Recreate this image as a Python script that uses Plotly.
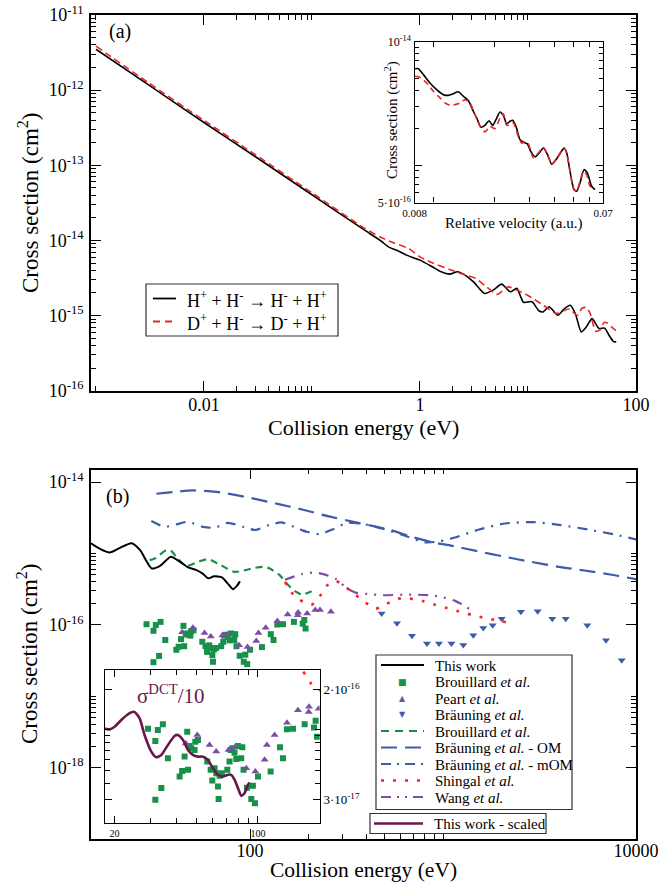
import math
import plotly.graph_objects as go

W, H = 670, 882
FONT = "Liberation Serif, Times New Roman, serif"

# ---------------- Panel (a): main ----------------
ea_h = [0.001, 0.003, 0.01, 0.03, 0.1, 0.3, 0.433, 0.519, 0.624, 0.75, 1.0, 1.3, 1.57, 1.88,
        2.23, 2.61, 3.13, 3.95, 4.8, 5.7, 6.86, 7.87, 9.1, 10.9, 12.6, 13.8, 15.7, 18.9, 21.5,
        24.6, 27.5, 31.1, 34.5, 39.2, 45.4, 51.2, 57.0, 62.0, 65.6]
sa_h = [3.5e-12, 1.2e-12, 3.71e-13, 1.3e-13, 4.05e-14, 1.40e-14, 9.9e-15, 8.07e-15, 7.28e-15,
        6.37e-15, 5.47e-15, 4.46e-15, 3.82e-15, 3.56e-15, 3.82e-15, 3.45e-15, 2.81e-15, 1.97e-15,
        2.2e-15, 2.62e-15, 2.07e-15, 2.30e-15, 1.50e-15, 1.53e-15, 1.16e-15, 1.12e-15, 1.31e-15,
        1.01e-15, 1.22e-15, 1.37e-15, 1.05e-15, 6.07e-16, 7.0e-16, 9.1e-16, 6.73e-16, 6.8e-16,
        5.3e-16, 4.5e-16, 4.47e-16]
ea_d = [0.001, 0.003, 0.01, 0.03, 0.1, 0.3, 0.433, 0.569, 0.787, 1.0, 1.3, 1.88, 2.49, 3.28,
        4.13, 5.2, 6.55, 7.87, 9.45, 11.3, 14.0, 17.3, 19.3, 21.5, 23.9, 25.7, 28.6, 31.8, 34.7,
        37.3, 40.0, 42.4, 46.2, 50.7, 54.5, 59.7, 66.0]
sa_d = [3.85e-12, 1.28e-12, 3.95e-13, 1.38e-13, 4.3e-14, 1.48e-14, 1.10e-14, 9.3e-15, 7.8e-15,
        6.05e-15, 5.03e-15, 4.11e-15, 3.56e-15, 3.12e-15, 2.41e-15, 1.91e-15, 2.41e-15, 2.18e-15,
        1.94e-15, 1.66e-15, 1.36e-15, 1.10e-15, 1.07e-15, 1.16e-15, 1.22e-15, 1.14e-15, 1.0e-15,
        1.26e-15, 1.28e-15, 1.10e-15, 7.7e-16, 6.17e-16, 6.4e-16, 8.1e-16, 7.9e-16, 7.0e-16, 6.2e-16]

# ---------------- Panel (a): inset (relative velocity) ----------------
v_h = [0.00805, 0.00836, 0.00886, 0.00956, 0.01032, 0.01115, 0.01181, 0.01251, 0.01325, 0.01403,
       0.01486, 0.01574, 0.01636, 0.01719, 0.01800, 0.01886, 0.01967, 0.02044, 0.02140, 0.02223,
       0.02310, 0.02401, 0.02476, 0.02572, 0.02694, 0.02799, 0.02931, 0.03045, 0.03201, 0.03365,
       0.03523, 0.03689, 0.03878, 0.04108, 0.04350, 0.04468, 0.04608, 0.04789, 0.05014, 0.05170,
       0.05372, 0.05625, 0.05845, 0.06144, 0.06384]
sv_h = [6.03e-15, 6.03e-15, 5.40e-15, 4.62e-15, 4.08e-15, 3.72e-15, 3.67e-15, 3.79e-15, 3.93e-15,
        3.61e-15, 3.33e-15, 2.73e-15, 2.41e-15, 2.03e-15, 2.10e-15, 2.29e-15, 2.10e-15, 2.34e-15,
        2.69e-15, 2.53e-15, 2.16e-15, 2.27e-15, 2.31e-15, 2.06e-15, 1.61e-15, 1.54e-15, 1.49e-15,
        1.30e-15, 1.17e-15, 1.26e-15, 1.38e-15, 1.23e-15, 1.02e-15, 1.13e-15, 1.30e-15, 1.38e-15,
        1.26e-15, 8.93e-16, 6.35e-16, 6.16e-16, 7.19e-16, 9.21e-16, 8.66e-16, 6.76e-16, 6.35e-16]
v_d = [0.00805, 0.00852, 0.00920, 0.00994, 0.01073, 0.01136, 0.01203, 0.01274, 0.01350, 0.01430,
       0.01515, 0.01605, 0.01700, 0.01800, 0.01907, 0.02020, 0.02140, 0.02223, 0.02310, 0.02401,
       0.02495, 0.02642, 0.02745, 0.02852, 0.02963, 0.03139, 0.03326, 0.03523, 0.03732, 0.03878,
       0.04108, 0.04350, 0.04468, 0.04608, 0.04789, 0.04975, 0.05170, 0.05372, 0.05581, 0.05800,
       0.06027, 0.06384]
sv_d = [5.23e-15, 5.14e-15, 4.62e-15, 3.96e-15, 3.50e-15, 3.19e-15, 3.05e-15, 3.09e-15, 3.19e-15,
        3.39e-15, 3.19e-15, 2.56e-15, 2.06e-15, 1.86e-15, 2.06e-15, 1.98e-15, 2.41e-15, 2.60e-15,
        2.10e-15, 2.13e-15, 2.20e-15, 1.71e-15, 1.51e-15, 1.54e-15, 1.49e-15, 1.15e-15, 1.26e-15,
        1.40e-15, 1.18e-15, 1.01e-15, 1.13e-15, 1.32e-15, 1.38e-15, 1.26e-15, 8.93e-16, 6.55e-16,
        6.16e-16, 7.42e-16, 8.93e-16, 8.40e-16, 6.76e-16, 6.47e-16]

# ---------------- Panel (b): main ----------------
eb_this = [15.0, 16.7, 18.75, 21.2, 24.3, 26.9, 30.9, 34.2, 38.9, 43.4, 47.7, 52.5, 57.1, 60.6,
           65.1, 71.5, 76.9, 81.6, 85.1, 88.7]
sb_this = [1.39e-15, 1.16e-15, 1.03e-15, 1.20e-15, 1.39e-15, 1.12e-15, 6.19e-16, 6.72e-16,
           8.98e-16, 7.64e-16, 6.39e-16, 5.89e-16, 5.18e-16, 4.48e-16, 4.78e-16, 4.62e-16,
           3.75e-16, 3.16e-16, 3.46e-16, 4.06e-16]
eb_brou_th = [30.2, 32.1, 36.8, 39.1, 41.5, 46.7, 53.8, 60.6, 68.2, 83.3, 105.7, 119.0, 126.5,
              142.5, 154.9, 171.0, 185.2, 208.7]
sb_brou_th = [8.07e-16, 8.50e-16, 1.11e-15, 1.08e-15, 8.97e-16, 6.64e-16, 7.63e-16, 8.33e-16,
              7.23e-16, 5.52e-16, 6.29e-16, 6.5e-16, 6.15e-16, 4.97e-16, 3.79e-16, 2.96e-16,
              2.66e-16, 2.96e-16]
eb_om = [32.7, 50.6, 70.3, 97.7, 138.8, 188.6, 256.6, 348.5, 531, 688, 887, 1114, 1549, 2060,
         2863, 3976, 5408, 7348, 10000]
sb_om = [6.86e-15, 7.64e-15, 7.16e-15, 6.09e-15, 4.96e-15, 4.09e-15, 3.30e-15, 2.75e-15,
         2.14e-15, 1.71e-15, 1.43e-15, 1.28e-15, 1.06e-15, 9.06e-16, 7.63e-16, 6.50e-16,
         5.77e-16, 5.07e-16, 4.36e-16]
eb_mom = [30.8, 36.1, 41.5, 47.7, 57.1, 65.6, 76.9, 93.0, 106.5, 125.4, 145.2, 169, 196.6,
          230.4, 270, 318, 394, 500, 635, 806, 964, 1153, 1541, 2094, 2935, 4070, 5725, 7995, 10000]
sb_mom = [2.84e-15, 2.36e-15, 2.55e-15, 2.78e-15, 2.36e-15, 2.29e-15, 2.69e-15, 2.34e-15,
          2.13e-15, 2.50e-15, 2.72e-15, 2.36e-15, 2.01e-15, 1.87e-15, 2.19e-15, 2.69e-15,
          2.56e-15, 2.18e-15, 1.77e-15, 1.43e-15, 1.48e-15, 1.67e-15, 2.17e-15, 2.63e-15,
          2.75e-15, 2.50e-15, 2.15e-15, 1.81e-15, 1.57e-15]
eb_shingal = [151.8, 164.4, 181.6, 208.7, 230.4, 249.6, 279, 316.9, 354, 399, 449.5, 514.4,
              586.6, 674.5, 784.9, 901.3, 1036, 1200, 1392, 1587, 1838, 2121]
sb_shingal = [4.0e-16, 2.83e-16, 2.22e-16, 1.92e-16, 2.54e-16, 3.52e-16, 4.09e-16, 3.30e-16,
              2.60e-16, 2.03e-16, 1.69e-16, 1.99e-16, 2.33e-16, 2.33e-16, 2.15e-16, 1.92e-16,
              1.73e-16, 1.55e-16, 1.39e-16, 1.28e-16, 1.18e-16, 1.09e-16]
eb_wang = [151.8, 185.2, 217.1, 244.6, 281.2, 314.3, 357, 418.4, 490.4, 648.4, 856, 1012, 1162,
           1300, 1447]
sb_wang = [4.27e-16, 5.13e-16, 5.40e-16, 5.06e-16, 4.36e-16, 3.30e-16, 2.80e-16, 2.69e-16,
           2.60e-16, 2.65e-16, 2.60e-16, 2.41e-16, 2.15e-16, 1.84e-16, 1.47e-16]
eb_brou_exp = [29.1, 31.6, 31.6, 32.5, 33.8, 34.4, 36.4, 41.5, 42.7, 43.9, 45.2, 45.6, 46.4, 47.3,
               49.1, 49.5, 51.0, 56.6, 58.8, 59.9, 61.5, 62.6, 63.8, 64.3, 65.0, 66.7, 70.9, 72.7,
               73.6, 75.0, 76.9, 78.4, 79.9, 82.9, 83.9, 85.1, 88.4, 92.8, 94.5, 96.7, 100.0,
               115.3, 128.1, 132.4, 138.5, 148.2, 168.9, 187.6, 191.1, 194.0]
sb_brou_exp = [1.02e-16, 8.25e-17, 3.0e-17, 9.96e-17, 3.67e-17, 1.10e-16, 6.13e-17, 4.48e-17,
               4.93e-17, 6.31e-17, 9.68e-17, 5.02e-17, 7.57e-17, 7.27e-17, 7.07e-17, 8.15e-17,
               8.39e-17, 5.79e-17, 5.02e-17, 4.18e-17, 5.16e-17, 4.74e-17, 3.77e-17, 3.04e-17,
               4.53e-17, 4.74e-17, 5.02e-17, 5.79e-17, 7.07e-17, 7.27e-17, 6.75e-17, 6.06e-17,
               7.57e-17, 6.13e-17, 7.40e-17, 5.02e-17, 3.69e-17, 3.04e-17, 3.82e-17, 2.82e-17,
               4.48e-17, 4.88e-17, 7.40e-17, 6.13e-17, 1.01e-16, 1.02e-16, 1.10e-16, 1.04e-16,
               1.17e-16, 8.88e-17]
eb_peart = [44.5, 50.6, 58.1, 62.6, 71.9, 76.9, 87.7, 97.1, 107.8, 110.6, 120.6, 138.5, 156.7,
            176.7, 177.4, 197.7, 217.8, 230.4, 262.7]
sb_peart = [7.9e-17, 9.14e-17, 7.70e-17, 6.87e-17, 7.07e-17, 7.36e-17, 5.16e-17, 4.88e-17,
            5.96e-17, 7.70e-17, 9.14e-17, 1.13e-16, 1.40e-16, 1.36e-16, 1.49e-16, 1.44e-16,
            1.62e-16, 1.62e-16, 1.53e-16]
eb_braun = [481, 577.5, 690.6, 826, 953, 1106, 1274, 1435, 1617, 1809, 2014, 2535, 3095, 3683,
            4323, 5593, 6991, 8433]
sb_braun = [1.44e-16, 1.05e-16, 7.06e-17, 5.49e-17, 5.49e-17, 5.49e-17, 5.23e-17, 7.15e-17,
            9.06e-17, 9.88e-17, 1.22e-16, 1.52e-16, 1.55e-16, 1.22e-16, 1.22e-16, 9.88e-17,
            6.09e-17, 3.19e-17]

# ---------------- Panel (b): inset (this work scaled by 1/10) ----------------
ei_scaled = [17.9, 18.9, 20.0, 21.95, 24.1, 25.0, 26.5, 28.0, 30.2, 31.9, 33.8, 36.4, 39.3, 40.7,
             43.1, 45.6, 48.2, 51.0, 53.9, 57.0, 60.3, 63.8, 67.5, 71.4, 74.1, 77.0, 79.9, 82.9,
             86.1, 89.4, 91.1]
si_scaled = [1.025e-16, 1.008e-16, 1.054e-16, 1.217e-16, 1.349e-16, 1.362e-16, 1.217e-16,
             9.14e-17, 6.87e-17, 6.24e-17, 6.49e-17, 7.70e-17, 9.03e-17, 9.14e-17, 8.39e-17,
             7.07e-17, 6.49e-17, 6.30e-17, 6.30e-17, 5.96e-17, 5.16e-17, 4.61e-17, 4.47e-17,
             4.61e-17, 4.61e-17, 4.23e-17, 3.67e-17, 3.21e-17, 3.37e-17, 3.88e-17, 4.04e-17]

# colours
C_RED_A = "#e8262b"
C_GREEN = "#17904a"
C_PURPLE = "#7d4ea5"
C_BLUE = "#3d5ca8"
C_RED = "#ff1f1f"
C_MAROON = "#6a1648"

fig = go.Figure()


def line(x, y, xa, ya, color, width, dash="solid", spline=True, smoothing=0.6):
    fig.add_trace(go.Scatter(
        x=x, y=y, xaxis=xa, yaxis=ya, mode="lines",
        line=dict(color=color, width=width, dash=dash,
                  shape="spline" if spline else "linear", smoothing=smoothing),
        showlegend=False, hoverinfo="skip"))


def pts(x, y, xa, ya, color, symbol, size):
    fig.add_trace(go.Scatter(
        x=x, y=y, xaxis=xa, yaxis=ya, mode="markers",
        marker=dict(color=color, symbol=symbol, size=size, line=dict(width=0)),
        showlegend=False, hoverinfo="skip"))


# panel (a)
line(ea_h, sa_h, "x", "y", "black", 1.6)
line(ea_d, sa_d, "x", "y", C_RED_A, 1.6, dash="7px,4px")
# inset (a)
line(v_h, sv_h, "x2", "y2", "black", 1.6)
line(v_d, sv_d, "x2", "y2", C_RED_A, 1.6, dash="6px,4px")
# panel (b)
line(eb_om, sb_om, "x3", "y3", C_BLUE, 2.2, dash="16px,8px")
line(eb_mom, sb_mom, "x3", "y3", C_BLUE, 2.2, dash="10px,7px,2px,7px")
line(eb_brou_th, sb_brou_th, "x3", "y3", C_GREEN, 2.2, dash="7px,5px")
line(eb_wang, sb_wang, "x3", "y3", C_PURPLE, 2.2, dash="10px,7px,2px,7px,2px,7px")
line(eb_shingal, sb_shingal, "x3", "y3", C_RED, 2.6, dash="3px,9px")
line(eb_this, sb_this, "x3", "y3", "black", 2.0)
pts(eb_brou_exp, sb_brou_exp, "x3", "y3", C_GREEN, "square", 6)
pts(eb_peart, sb_peart, "x3", "y3", C_PURPLE, "triangle-up", 7)
pts(eb_braun, sb_braun, "x3", "y3", C_BLUE, "triangle-down", 7)
# inset (b)
line(eb_shingal, sb_shingal, "x4", "y4", C_RED, 2.6, dash="3px,9px")
pts(eb_brou_exp, sb_brou_exp, "x4", "y4", C_GREEN, "square", 6)
pts(eb_peart, sb_peart, "x4", "y4", C_PURPLE, "triangle-up", 7)
line(ei_scaled, si_scaled, "x4", "y4", C_MAROON, 2.6)


def ax(domain, rng, anchor, tickvals, ticktext, minor_vals, ticklen=10, minorlen=5,
       fontsize=18, side=None, lw=1.6, standoff=None):
    d = dict(domain=domain, type="log", range=rng, anchor=anchor, automargin=False,
             showline=True, linecolor="black", linewidth=lw, mirror="ticks",
             ticks="inside", ticklen=ticklen, tickwidth=1.2, tickcolor="black",
             tickmode="array", tickvals=tickvals, ticktext=ticktext,
             tickfont=dict(family=FONT, size=fontsize, color="black"),
             showgrid=False, zeroline=False,
             minor=dict(ticks="inside", ticklen=minorlen, tickwidth=1, tickcolor="black",
                        tickvals=minor_vals, showgrid=False))
    if side:
        d["side"] = side
    if standoff is not None:
        d["ticklabelstandoff"] = standoff
    return d


lg = math.log10

a_x_minor = [k * 10.0 ** e for e in (-4, -2, 0) for k in range(2, 11)]
a_y_minor = [k * 10.0 ** e for e in range(-16, -11) for k in range(2, 10)]
ia_x_minor = [0.01, 0.02, 0.03, 0.04, 0.05, 0.06]
ia_y_minor = [6e-16, 7e-16, 8e-16, 9e-16] + [k * 1e-15 for k in range(2, 10)]
b_x_minor = [k * 100 for k in range(2, 11)]
b_y_minor = [k * 10.0 ** e for e in (-20, -18, -16) for k in range(2, 11)]
ib_x_minor = [30, 40, 50, 60, 70, 80, 90, 200]
ib_y_minor = [4e-17, 5e-17, 6e-17, 7e-17, 8e-17, 9e-17, 1e-16]

XA = [91 / W, 636 / W]

layout = dict(
    width=W, height=H, margin=dict(l=0, r=0, t=0, b=0, autoexpand=False),
    paper_bgcolor="white", plot_bgcolor="white", showlegend=False,
    font=dict(family=FONT, color="black"),
    xaxis=ax(XA, [lg(0.0009), 2], "y", [0.01, 1, 100], ["0.01", "1", "100"], a_x_minor,
             standoff=-3),
    yaxis=ax([1 - 390.7 / H, 1 - 15 / H], [-16, -11], "x",
             [1e-16, 1e-15, 1e-14, 1e-13, 1e-12, 1e-11],
             ["10<sup>-16</sup>", "10<sup>-15</sup>", "10<sup>-14</sup>", "10<sup>-13</sup>",
              "10<sup>-12</sup>", "10<sup>-11</sup>"], a_y_minor, standoff=2),
    xaxis2=ax([414.5 / W, 603 / W], [lg(0.008), lg(0.07)], "y2", [0.008, 0.07],
              ["0.008", "0.07"], ia_x_minor, ticklen=6, minorlen=5, fontsize=11, lw=1.4,
              standoff=0),
    yaxis2=ax([1 - 202.5 / H, 1 - 41.5 / H], [lg(5e-16), -14], "x2", [5e-16, 1e-15, 1e-14],
              ["5·10<sup>-16</sup>", "", "10<sup>-14</sup>"], ia_y_minor, ticklen=7,
              minorlen=4, fontsize=12, lw=1.4, standoff=0),
    xaxis3=ax(XA, [lg(15), 4], "y3", [100, 10000], ["100", "10000"], b_x_minor, standoff=-5),
    yaxis3=ax([1 - 839 / H, 1 - 469.5 / H], [-19, lg(1.5e-14)], "x3", [1e-18, 1e-16, 1e-14],
              ["10<sup>-18</sup>", "10<sup>-16</sup>", "10<sup>-14</sup>"], b_y_minor,
              standoff=2),
    xaxis4=ax([104.7 / W, 319.7 / W], [lg(17.9), lg(200)], "y4", [20, 100], ["20", "100"],
              ib_x_minor, ticklen=7, minorlen=5, fontsize=10, lw=1.4, standoff=0),
    yaxis4=ax([1 - 823.3 / H, 1 - 670 / H], [lg(2e-17), lg(2.8e-16)], "x4", [3e-17, 2e-16],
              ["3·10<sup>-17</sup>", "2·10<sup>-16</sup>"], ib_y_minor, ticklen=7, minorlen=5,
              fontsize=13, side="right", lw=1.4, standoff=0),
)
fig.update_layout(**layout)


def fx(p):
    return p / W


def fy(p):
    return 1 - p / H


annotations = []


def text(t, x, y, size, xanchor="center", yanchor="middle", angle=0, color="black",
         family=FONT):
    annotations.append(dict(text=t, x=fx(x), y=fy(y), xref="paper", yref="paper",
                            showarrow=False, xanchor=xanchor, yanchor=yanchor,
                            textangle=angle, font=dict(family=family, size=size, color=color)))


# labels
text("(a)", 120, 31, 20)
text("(b)", 117, 496, 20)
text("Cross section (cm<sup>2</sup>)", 29, 203, 23, angle=-90)
text("Collision energy (eV)", 363.5, 427, 22)
text("Cross section (cm<sup>2</sup>)", 27, 654, 23, angle=-90)
text("Collision energy (eV)", 363.5, 870, 21.5)
text("Relative velocity (a.u.)", 513, 223, 15)
text("Cross section (cm<sup>2</sup>)", 391, 120, 15, angle=-90)
text("σ<sup>DCT</sup>/10", 171, 694, 21, color=C_MAROON)

shapes = []


def rect(x0, y0, x1, y1, lw=1.0, color="black"):
    shapes.append(dict(type="rect", xref="paper", yref="paper", x0=fx(x0), x1=fx(x1),
                       y0=fy(y1), y1=fy(y0), line=dict(color=color, width=lw),
                       fillcolor="white", layer="above"))


def seg(x0, x1, y, color, width, dash="solid"):
    shapes.append(dict(type="line", xref="paper", yref="paper", x0=fx(x0), x1=fx(x1),
                       y0=fy(y), y1=fy(y), line=dict(color=color, width=width, dash=dash),
                       layer="above"))


# legend (a)
rect(146, 284, 338, 336, lw=1.2, color="#333333")
seg(153, 176, 298.5, "black", 1.8)
text("H<sup>+</sup> + H<sup>-</sup> → H<sup>-</sup> + H<sup>+</sup>", 185, 299, 18,
     xanchor="left")
seg(153, 176, 321.5, C_RED_A, 1.8, dash="7px,5px")
text("D<sup>+</sup> + H<sup>-</sup> → D<sup>-</sup> + H<sup>+</sup>", 185, 322, 18,
     xanchor="left")

# legend (b)
rect(376, 655, 572, 809.5, lw=1.2, color="#333333")
rows = [665 + 16.5 * i for i in range(9)]
labels = ["This work", "Brouillard <i>et al.</i>", "Peart <i>et al.</i>",
          "Bräuning <i>et al.</i>", "Brouillard <i>et al.</i>",
          "Bräuning <i>et al.</i> - OM", "Bräuning <i>et al.</i> - mOM",
          "Shingal <i>et al.</i>", "Wang <i>et al.</i>"]
seg(381, 424, rows[0], "black", 2.2)
text("■", 402, rows[1], 9, color=C_GREEN, family="DejaVu Sans")
text("▲", 402, rows[2], 8, color=C_PURPLE, family="DejaVu Sans")
text("▼", 402, rows[3], 8, color=C_BLUE, family="DejaVu Sans")
seg(381, 424, rows[4], C_GREEN, 2.2, dash="8px,6px")
seg(381, 424, rows[5], C_BLUE, 2.2, dash="16px,8px")
seg(381, 424, rows[6], C_BLUE, 2.2, dash="10px,6px,2px,6px")
seg(381, 424, rows[7], C_RED, 2.6, dash="3px,9px")
seg(381, 424, rows[8], C_PURPLE, 2.2, dash="10px,6px,2px,6px,2px,6px")
for r, lab in zip(rows, labels):
    text(lab, 433, r + 0.5, 15, xanchor="left")

rect(370, 813.5, 546, 833.5, lw=1.2, color="#333333")
seg(374, 423, 823.5, C_MAROON, 2.6)
text("This work - scaled", 432, 824, 15, xanchor="left")

fig.update_layout(annotations=annotations, shapes=shapes)
fig.write_html("out.html", config={"displayModeBar": False},
               post_script="document.body.style.margin='0px';")
